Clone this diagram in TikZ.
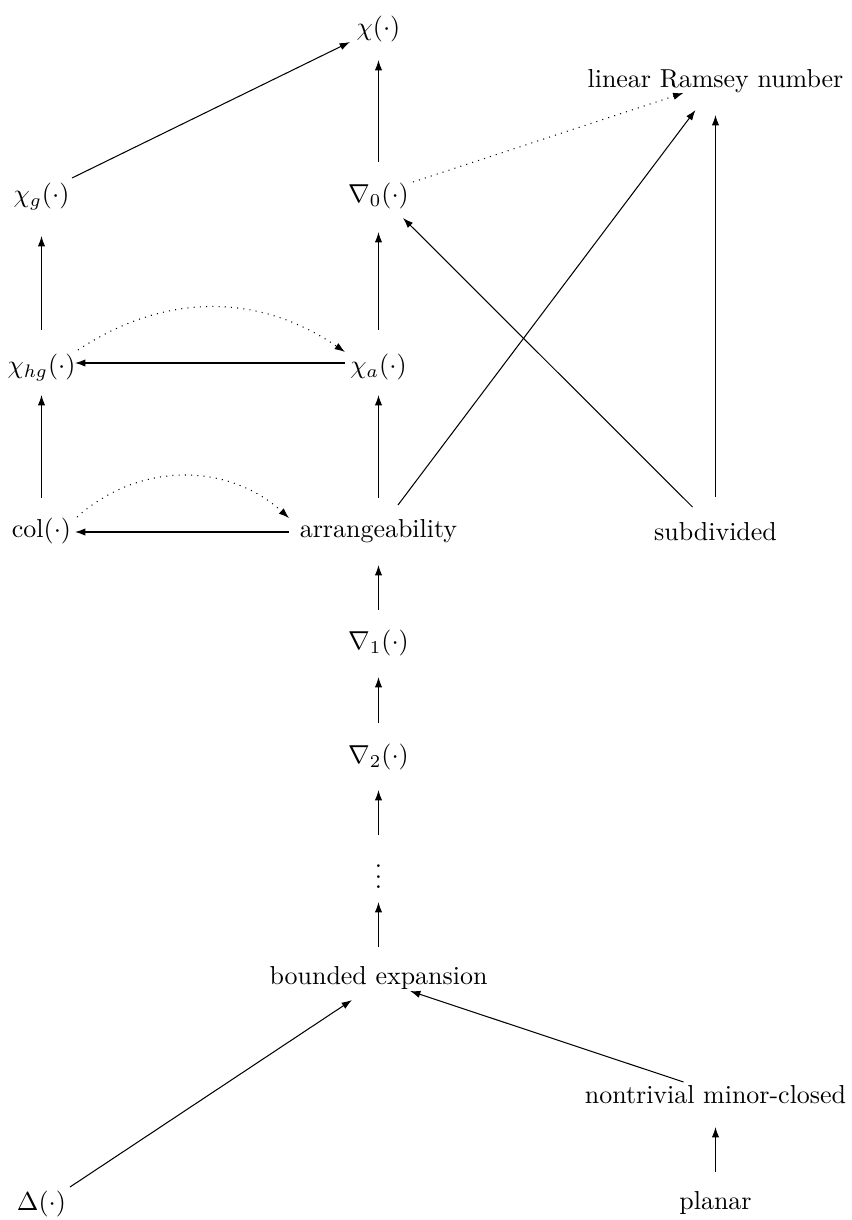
\documentclass[tikz,border=0pt]{standalone}
\usetikzlibrary{arrows.meta,calc}
\begin{document}
\begin{tikzpicture}[x=0.3854pt,y=-0.3854pt,
  lbl/.style={inner sep=0pt,text height=7.5pt,text depth=2.5pt,anchor=center},
  conn/.style={-{Latex[length=4pt,width=2.8pt]},line width=0.4pt},
  dconn/.style={conn,dotted}]
\useasboundingbox (0,0) rectangle (851,1220);
% nodes
\node[lbl] (chi)    at (378.5,29)   {$\chi(\cdot)$};
\node[lbl] (lrn)    at (715.5,81)   {linear Ramsey number};
\node[lbl] (chig)   at (41.5,196)   {$\chi_g(\cdot)$};
\node[lbl] (nz)     at (378.5,196)  {$\nabla_0(\cdot)$};
\node[lbl] (chihg)  at (41.5,367)   {$\chi_{hg}(\cdot)$};
\node[lbl] (chia)   at (378.5,367)  {$\chi_a(\cdot)$};
\node[lbl] (col)    at (41.5,531)   {$\mathrm{col}(\cdot)$};
\node[lbl] (arrg)   at (378.5,531)  {arrangeability};
\node[lbl] (sub)    at (715.5,534)  {subdivided};
\node[lbl] (none)   at (378.5,643)  {$\nabla_1(\cdot)$};
\node[lbl] (ntwo)   at (378.5,757)  {$\nabla_2(\cdot)$};
\node[lbl] (vd)     at (378.5,882)  {$\vdots$};
\node[lbl] (be)     at (378.5,978)  {bounded expansion};
\node[lbl] (nmc)    at (715.5,1097) {nontrivial minor-closed};
\node[lbl] (delta)  at (41.5,1204)  {$\Delta(\cdot)$};
\node[lbl] (planar) at (715.5,1203) {planar};
% connectors
\draw[conn] ($(chig)+(30.5,-18)$) -- ($(chi)+(-28.5,13)$);
\draw[conn] ($(nz)+(0,-34)$) -- ($(chi)+(0,31)$);
\draw[dconn] ($(nz)+(34.5,-14)$) -- ($(lrn)+(-32,12)$);
\draw[conn] ($(chihg)+(0,-37)$) -- ($(chig)+(0,40)$);
\draw[conn] ($(chia)+(0,-37)$) -- ($(nz)+(0,36)$);
\draw[conn] ($(chia)+(-33.5,-4)$) -- ($(chihg)+(33.5,-4)$);
\draw[dconn] ($(chihg)+(36.5,-17)$) to[bend left=34] ($(chia)+(-33.5,-15)$);
\draw[conn] ($(col)+(0,-33)$) -- ($(chihg)+(0,28)$);
\draw[conn] ($(arrg)+(0,-33)$) -- ($(chia)+(0,28)$);
\draw[conn] ($(arrg)+(-89.5,1)$) -- ($(col)+(33.5,1)$);
\draw[dconn] ($(col)+(35.5,-14)$) to[bend left=42] ($(arrg)+(-89.5,-13)$);
\draw[conn] ($(arrg)+(19.5,-26)$) -- ($(lrn)+(-20,29)$);
\draw[conn] ($(sub)+(-23,-27)$) -- ($(nz)+(24.5,22)$);
\draw[conn] ($(sub)+(0,-37)$) -- ($(lrn)+(0,34)$);
\draw[conn] ($(none)+(0,-33)$) -- ($(arrg)+(0,34)$);
\draw[conn] ($(ntwo)+(0,-34)$) -- ($(none)+(0,34)$);
\draw[conn] ($(vd)+(0,-47)$) -- ($(ntwo)+(0,33)$);
\draw[conn] ($(be)+(0,-31)$) -- ($(vd)+(0,20)$);
\draw[conn] ($(delta)+(28.5,-17)$) -- ($(be)+(-26.5,22)$);
\draw[conn] ($(nmc)+(-32,-15)$) -- ($(be)+(31.5,13)$);
\draw[conn] ($(planar)+(0,-31)$) -- ($(nmc)+(0,30)$);
\end{tikzpicture}
\end{document}
